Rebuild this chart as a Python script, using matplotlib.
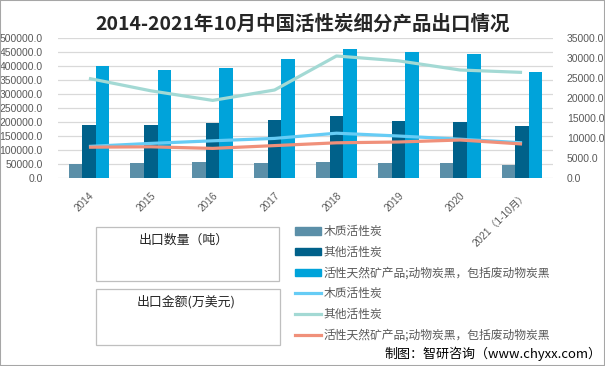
import numpy as np
import matplotlib
matplotlib.use('Agg')
import matplotlib.pyplot as plt
from matplotlib.patches import Patch, Rectangle
from matplotlib.lines import Line2D

plt.rcParams['font.family'] = ['Noto Sans CJK SC', 'DejaVu Sans']

# 数据
years = ['2014', '2015', '2016', '2017', '2018', '2019', '2020', '2021（1-10月）']
qty_wood = [51000, 54500, 58000, 54500, 58000, 54500, 54500, 47500]
qty_other = [189000, 189000, 197000, 208000, 221000, 204000, 200000, 186000]
qty_mineral = [400000, 386000, 393000, 425000, 461000, 450000, 443000, 379000]
amt_wood = [7900, 8650, 9300, 9900, 11200, 10500, 9700, 8800]
amt_other = [24900, 21800, 19400, 22000, 30500, 29300, 27000, 26400]
amt_mineral = [7700, 7800, 7400, 8100, 8800, 9000, 9500, 8500]

names = ['木质活性炭', '其他活性炭', '活性天然矿产品;动物炭黑，包括废动物炭黑']
bar_colors = ['#5B8FA8', '#00618A', '#00A3DA']
line_colors = ['#66CCF5', '#A3D9D4', '#F0907A']
gray = '#595959'
num_font = ['Liberation Sans', 'Noto Sans CJK SC']

fig = plt.figure(figsize=(6.05, 3.66), dpi=100)
ax = fig.add_axes([58 / 605, 1 - 178 / 366, 495 / 605, 140 / 366])
ax2 = ax.twinx()

x = np.arange(len(years))
w = 0.22
for i, vals in enumerate([qty_wood, qty_other, qty_mineral]):
    ax.bar(x + (i - 1) * w, vals, w, color=bar_colors[i], zorder=2)

for i, vals in enumerate([amt_wood, amt_other, amt_mineral]):
    ax2.plot(x, vals, color=line_colors[i], lw=2.3, solid_capstyle='butt', zorder=3)

ax.set_xlim(-0.5, len(years) - 0.5)
ax.set_ylim(0, 500000)
ax2.set_ylim(0, 35000)
ax.set_yticks(np.arange(0, 500001, 50000))
ax2.set_yticks(np.arange(0, 35001, 5000))
ax.set_yticklabels([f'{v:.1f}' for v in np.arange(0, 500001, 50000)],
                   family=num_font, fontsize=7.5, color=gray)
ax2.set_yticklabels([f'{v:.1f}' for v in np.arange(0, 35001, 5000)],
                    family=num_font, fontsize=7.5, color=gray)
ax.set_xticks(x)
ax.set_xticklabels(years, rotation=45, ha='right', rotation_mode='anchor',
                   family=num_font, fontsize=7.2, color=gray)
ax.tick_params(axis='y', length=0, pad=11)
ax2.tick_params(axis='y', length=0, pad=10)
ax.tick_params(axis='x', length=0, pad=9)
ax.grid(axis='y', color='#D9D9D9', lw=0.9, zorder=0)
for a in (ax, ax2):
    for s in a.spines.values():
        s.set_visible(False)
ax.set_zorder(ax2.get_zorder() - 1)
ax2.patch.set_visible(False)

fig.text(0.5, 1 - 24 / 366, '2014-2021年10月中国活性炭细分产品出口情况',
         ha='center', va='center', fontsize=14, fontweight='bold', color='#262626')

# 左侧说明框
fig.patches.append(Rectangle((96 / 605, 1 - 281 / 366), 183 / 605, 54 / 366,
                             transform=fig.transFigure, fill=False,
                             edgecolor='#BFBFBF', lw=0.9))
fig.patches.append(Rectangle((96 / 605, 1 - 345 / 366), 184 / 605, 56 / 366,
                             transform=fig.transFigure, fill=False,
                             edgecolor='#BFBFBF', lw=0.9))
fig.text(184 / 605, 1 - 240 / 366, '出口数量（吨）', ha='center', va='center',
         fontsize=9.3, color='#262626')
fig.text(186 / 605, 1 - 302 / 366, '出口金额(万美元)', ha='center', va='center',
         fontsize=9.3, color='#262626')

handles = [Patch(color=c) for c in bar_colors] + \
          [Line2D([0], [0], color=c, lw=2.3) for c in line_colors]
fig.legend(handles, names + names, loc='upper left',
           bbox_to_anchor=(295 / 605, 1 - 225 / 366), frameon=False,
           fontsize=8.5, labelcolor=gray, handlelength=2.2, handleheight=0.6,
           handletextpad=0.25, labelspacing=0.66, borderpad=0, borderaxespad=0)

fig.text(601 / 605, 1 - 354 / 366, '制图：智研咨询（www.chyxx.com）', ha='right',
         va='center', fontsize=9.4, color='black')

fig.patches.append(Rectangle((0, 0), 1, 1, transform=fig.transFigure, fill=False,
                             edgecolor='#A6A6A6', lw=1.5))

fig.savefig('out.png', dpi=100)
